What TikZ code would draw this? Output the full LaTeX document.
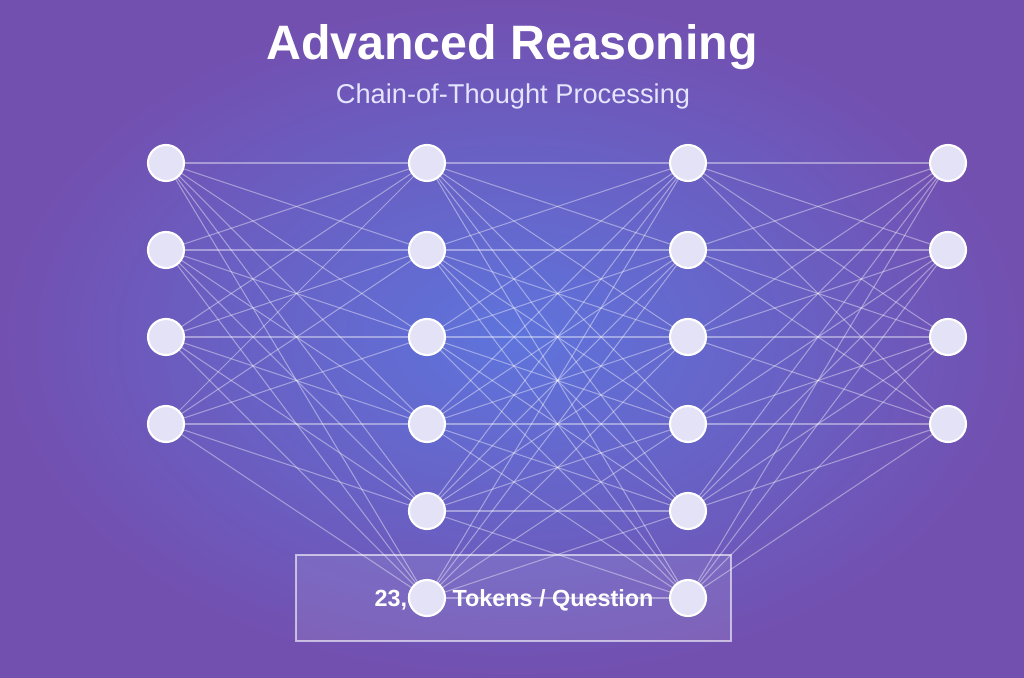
\documentclass[tikz,border=0pt]{standalone}
\usepackage{fontspec}
\setmainfont{Liberation Sans}
\definecolor{bgout}{HTML}{7250B0}
\definecolor{bgin}{HTML}{5E74DC}
\definecolor{neuron}{HTML}{E4E2F6}
\tikzset{
  unit/.style = {circle, minimum size=36\pxu, inner sep=0pt, fill=neuron, draw=white, line width=1.2pt},
  link/.style = {white, opacity=0.4, line width=0.6pt},
}
\newlength{\pxu}
\setlength{\pxu}{0.02cm}
\begin{document}
\begin{tikzpicture}[x=0.02cm, y=-0.02cm]
    \shade[inner color=bgin, outer color=bgout] (0,0) rectangle (1024,678);
    \useasboundingbox (0,0) rectangle (1024,678);

    % layers
    \foreach \r in {1,...,4} \coordinate (A\r) at (166,76+87*\r);
    \foreach \r in {1,...,6} \coordinate (B\r) at (427,76+87*\r);
    \foreach \r in {1,...,6} \coordinate (C\r) at (688,76+87*\r);
    \foreach \r in {1,...,4} \coordinate (D\r) at (948,76+87*\r);

    % connections
    \foreach \i in {1,...,4} \foreach \j in {1,...,6} \draw[link] (A\i) -- (B\j);
    \foreach \i in {1,...,6} \foreach \j in {1,...,6} \draw[link] (B\i) -- (C\j);
    \foreach \i in {1,...,6} \foreach \j in {1,...,4} \draw[link] (C\i) -- (D\j);

    \node[draw=white, draw opacity=0.6, fill=white, fill opacity=0.1, line width=1pt,
          minimum width=435\pxu, minimum height=86\pxu] (box) at (513.5,598) {};
    \node[white, font=\bfseries\fontsize{13.3}{15}\selectfont] (tokens) at (514,600) {23,000 Tokens / Question};

    % neurons
    \foreach \r in {1,...,4} \node[unit] (a\r) at (A\r) {};
    \foreach \r in {1,...,6} \node[unit] (b\r) at (B\r) {};
    \foreach \r in {1,...,6} \node[unit] (c\r) at (C\r) {};
    \foreach \r in {1,...,4} \node[unit] (d\r) at (D\r) {};

    \node[white, font=\bfseries\fontsize{27.5}{32}\selectfont] (title) at (512,47) {Advanced Reasoning};
    \node[white!90!blue, font=\fontsize{15.5}{18}\selectfont] (subtitle) at (513,96) {Chain-of-Thought Processing};
\end{tikzpicture}
\end{document}
